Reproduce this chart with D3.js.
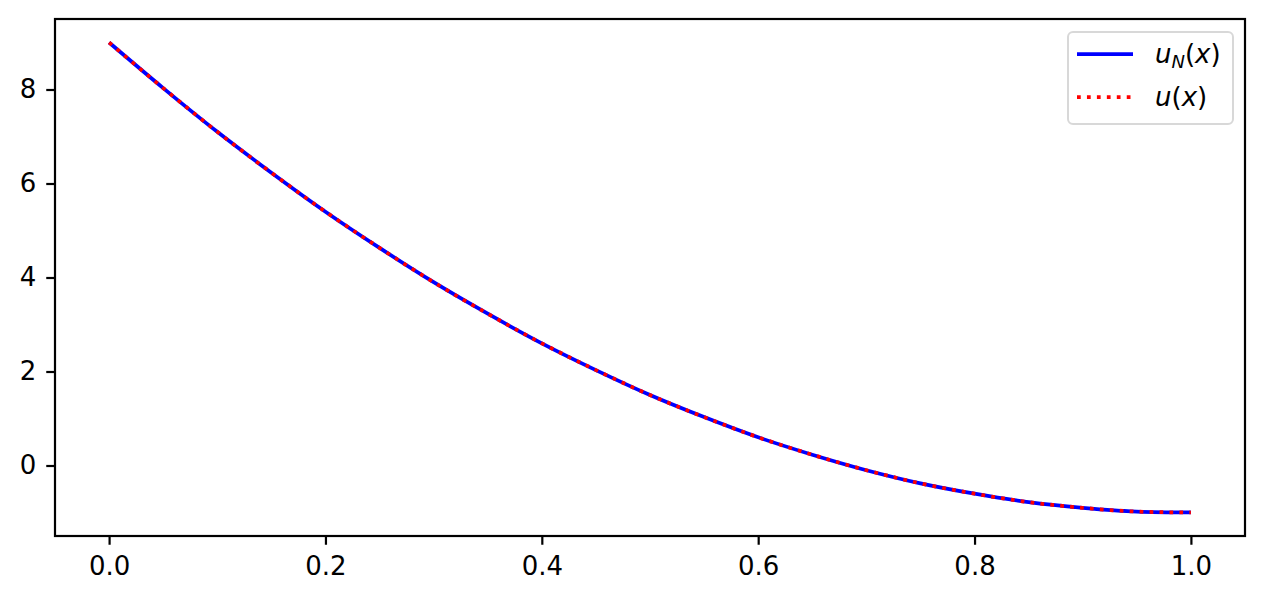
<!DOCTYPE html>
<meta charset="utf-8">
<style>
  body { margin: 0; background: #fff; }
  text { font-family: "DejaVu Sans", sans-serif; }
  .domain, .tick line { stroke: #000; stroke-width: 2.2px; }
</style>
<svg id="chart"></svg>
<script src="https://cdn.jsdelivr.net/npm/d3@7"></script>
<script>

var width = 1264,
    height = 600,
    margin = {top: 19, right: 19, bottom: 64, left: 55}

// values, x = 0, 0.05, ..., 1
var xs = [0, 0.05, 0.1, 0.15, 0.2, 0.25, 0.3, 0.35, 0.4, 0.45, 0.5,
          0.55, 0.6, 0.65, 0.7, 0.75, 0.8, 0.85, 0.9, 0.95, 1.0]
var uN = [9.0, 8.03, 7.1, 6.23, 5.4, 4.63, 3.9, 3.23, 2.6, 2.03, 1.5,
          1.03, 0.6, 0.23, -0.1, -0.38, -0.6, -0.78, -0.9, -0.98, -1.0]
var u  = [9.0, 8.03, 7.1, 6.23, 5.4, 4.63, 3.9, 3.23, 2.6, 2.03, 1.5,
          1.03, 0.6, 0.23, -0.1, -0.38, -0.6, -0.78, -0.9, -0.98, -1.0]
var xTicks = [0, 0.2, 0.4, 0.6, 0.8, 1.0]
var yTicks = [0, 2, 4, 6, 8]

var fs = 26

var svg = d3.select('#chart')
            .attr('width', width)
            .attr('height', height)

var x = d3.scaleLinear().domain([-0.05, 1.05]).range([margin.left, width - margin.right])
var y = d3.scaleLinear().domain([-1.5, 9.5]).range([height - margin.bottom, margin.top])

var xAxis = d3.axisBottom(x).tickValues(xTicks).tickFormat(d3.format('.1f'))
              .tickSize(8.75).tickPadding(11.5).tickSizeOuter(0)
var yAxis = d3.axisLeft(y).tickValues(yTicks).tickFormat(d3.format('d'))
              .tickSize(8.75).tickPadding(10).tickSizeOuter(0)

var gX = svg.append('g')
            .attr('transform', 'translate(0,' + (height - margin.bottom) + ')')
            .call(xAxis)
gX.select('.domain').remove()
gX.selectAll('text').attr('font-size', fs).attr('font-family', 'DejaVu Sans').attr('fill', '#000')

var gY = svg.append('g')
            .attr('transform', 'translate(' + margin.left + ',0)')
            .call(yAxis)
gY.select('.domain').remove()
gY.selectAll('text').attr('font-size', fs).attr('font-family', 'DejaVu Sans').attr('fill', '#000')

var line = d3.line()
             .x((d) => x(d[0]))
             .y((d) => y(d[1]))
             .curve(d3.curveMonotoneX)

svg.append('path')
   .datum(xs.map((v, i) => [v, uN[i]]))
   .attr('d', line)
   .attr('fill', 'none')
   .attr('stroke', 'blue')
   .attr('stroke-width', 3.75)

svg.append('path')
   .datum(xs.map((v, i) => [v, u[i]]))
   .attr('d', line)
   .attr('fill', 'none')
   .attr('stroke', 'red')
   .attr('stroke-width', 3.75)
   .attr('stroke-dasharray', '3.75,6.2')

// frame
svg.append('rect')
   .attr('x', margin.left)
   .attr('y', margin.top)
   .attr('width', width - margin.left - margin.right)
   .attr('height', height - margin.top - margin.bottom)
   .attr('fill', 'none')
   .attr('stroke', '#000')
   .attr('stroke-width', 2.2)

// legend
var lg = svg.append('g').attr('transform', 'translate(1068,32)')
lg.append('rect')
  .attr('width', 165).attr('height', 92)
  .attr('rx', 5).attr('ry', 5)
  .attr('fill', 'rgba(255,255,255,0.8)')
  .attr('stroke', '#d8d8d8')
  .attr('stroke-width', 2)

var items = [
  {name: 'uN', color: 'blue', dash: null, y: 22},
  {name: 'u', color: 'red', dash: '3.75,6.2', y: 65}
]
items.forEach(function (it) {
  lg.append('line')
    .attr('x1', 9).attr('x2', 65)
    .attr('y1', it.y).attr('y2', it.y)
    .attr('stroke', it.color)
    .attr('stroke-width', 3.75)
    .attr('stroke-dasharray', it.dash)
  var t = lg.append('text')
            .attr('x', 87).attr('y', it.y + 9)
            .attr('font-size', fs)
            .attr('fill', '#000')
  t.append('tspan').attr('font-style', 'italic').text('u')
  if (it.name === 'uN') {
    t.append('tspan').attr('font-style', 'italic').attr('font-size', 18).attr('dy', 5).text('N')
    t.append('tspan').attr('dy', -5).text('(')
  } else {
    t.append('tspan').text('(')
  }
  t.append('tspan').attr('font-style', 'italic').text('x')
  t.append('tspan').text(')')
})
</script>
